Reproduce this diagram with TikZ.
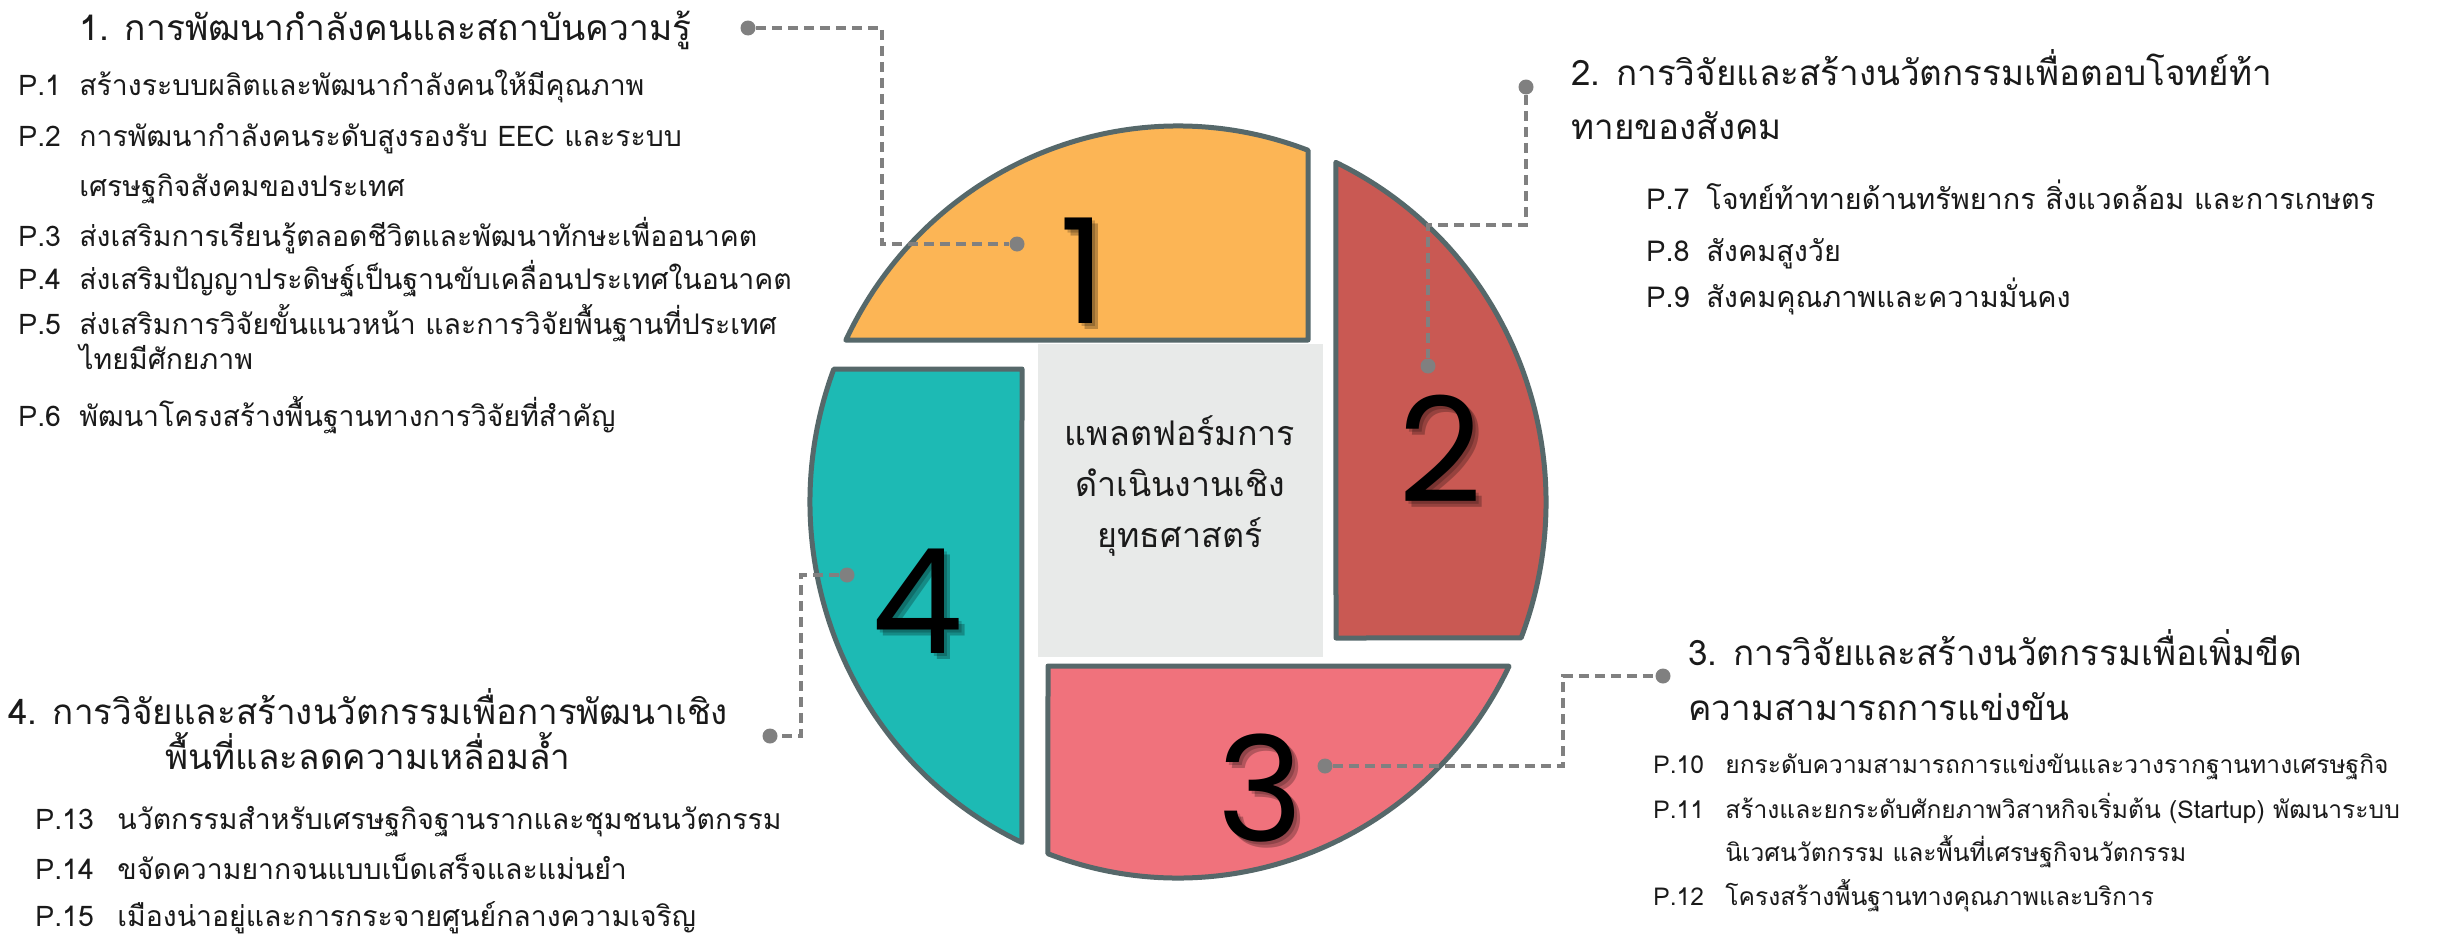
\documentclass[tikz,border=0pt]{standalone}
\usepackage{fontspec}
\setmainfont{Liberation Sans}
\newfontfamily\thaifont[Script=Thai]{Loma}
\newfontfamily\digitfont{Poppins}
\usetikzlibrary{calc}

\definecolor{segorange}{HTML}{FCB555}
\definecolor{segred}{HTML}{C95953}
\definecolor{segpink}{HTML}{F0727C}
\definecolor{segteal}{HTML}{1DBAB4}
\definecolor{rim}{HTML}{56686A}
\definecolor{hub}{HTML}{E8EAE9}
\definecolor{leader}{HTML}{808080}
\definecolor{ink}{HTML}{1A1A1A}

\tikzset{
  piece/.style={draw=rim, line width=2.5pt, line join=round},
  leaderline/.style={draw=leader, line width=1.8pt, dash pattern=on 5pt off 3pt},
  pin/.style={circle, fill=leader, inner sep=0pt, minimum size=7.5pt},
  item/.style={font=\thaifont\fontsize{14.2}{16}\selectfont, text=ink, inner sep=0pt, anchor=base west},
  itemwide/.style={item, font=\thaifont\fontsize{14.4}{16}\selectfont},
  itemsmall/.style={item, font=\thaifont\fontsize{12.3}{14}\selectfont},
  heading/.style={font=\thaifont\fontsize{17.5}{20}\selectfont, text=ink, inner sep=0pt, anchor=base west},
  headingbig/.style={heading, font=\thaifont\fontsize{17.7}{21}\selectfont},
  headingc/.style={heading, anchor=base},
  hubtext/.style={font=\thaifont\fontsize{17}{25.5}\selectfont, text=ink, align=center, inner sep=0pt},
  numeral/.style={font=\digitfont\fontsize{73}{80}\selectfont, inner sep=0pt},
  numshadow/.style={numeral, text=black, opacity=0.25},
}

\begin{document}
\begin{tikzpicture}[x=0.5pt, y=-0.5pt]
  \fill[white] (0,0) rectangle (2437,937);
  \useasboundingbox (0,0) rectangle (2437,937);

  % wheel centre (radii 368 x 376)
  \coordinate (c) at (1178,502);

  % four pieces of the wheel
  \filldraw[piece, fill=segorange] ($(c)+(205.5:368 and 376)$)
     arc[start angle=205.5, end angle=290.7, x radius=368, y radius=376]
     -- (1308,340) -- cycle;
  \filldraw[piece, fill=segred] ($(c)+(-64.6:368 and 376)$)
     arc[start angle=-64.6, end angle=21.2, x radius=368, y radius=376]
     -- (1336,638) -- cycle;
  \filldraw[piece, fill=segpink] (1048,666) -- ($(c)+(25.9:368 and 376)$)
     arc[start angle=25.9, end angle=110.7, x radius=368, y radius=376]
     -- cycle;
  \filldraw[piece, fill=segteal] (1022,369) -- ($(c)+(115.1:368 and 376)$)
     arc[start angle=115.1, end angle=200.7, x radius=368, y radius=376]
     -- cycle;

  % centre panel
  \fill[hub] (1038,344) rectangle (1323,657);
  \node[hubtext] (hubt) at (1180,486) {แพลตฟอร์มการ\\ดำเนินงานเชิง\\ยุทธศาสตร์};

  % numerals with soft shadow
  \foreach \n/\px/\py in {1/1083/271, 2/1440/449, 3/1260/788, 4/917/601}{
    \node[numshadow] at (\px+6,\py+6) {\n};
    \node[numshadow, opacity=0.2] at (\px+3,\py+3) {\n};
  }
  \node[numeral] (n1) at (1083,271) {1};
  \node[numeral] (n2) at (1440,449) {2};
  \node[numeral] (n3) at (1260,788) {3};
  \node[numeral] (n4) at (917,601) {4};

  % leader pins
  \node[pin] (a1) at (748,28) {};
  \node[pin] (b1) at (1017,244) {};
  \node[pin] (a2) at (1526,87) {};
  \node[pin] (b2) at (1428,366) {};
  \node[pin] (a3) at (1663,676) {};
  \node[pin] (b3) at (1325,766) {};
  \node[pin] (a4) at (770,736) {};
  \node[pin] (b4) at (847,575) {};
  \coordinate (k1) at (882,28);  \coordinate (k1b) at (882,244);
  \coordinate (k2) at (1526,225); \coordinate (k2b) at (1428,225);
  \coordinate (k3) at (1563,766); \coordinate (k3b) at (1563,676);
  \coordinate (k4) at (801,575);  \coordinate (k4b) at (801,736);
  \draw[leaderline] (a1) -- (k1) -- (k1b) -- (b1);
  \draw[leaderline] (a2) -- (k2) -- (k2b) -- (b2);
  \draw[leaderline] (b3) -- (k3) -- (k3b) -- (a3);
  \draw[leaderline] (b4) -- (k4) -- (k4b) -- (a4);

  % group 1
  \node[headingbig] (h1) at (79,40) {1. การพัฒนากำลังคนและสถาบันความรู้};
  \node[item] (p1) at (18,95) {P.1};
  \node[item] (t1) at (79,95) {สร้างระบบผลิตและพัฒนากำลังคนให้มีคุณภาพ};
  \node[item] (p2) at (18,146) {P.2};
  \node[item] (t2) at (79,146) {การพัฒนากำลังคนระดับสูงรองรับ EEC และระบบ};
  \node[item] (t2b) at (79,196) {เศรษฐกิจสังคมของประเทศ};
  \node[item] (p3) at (18,246) {P.3};
  \node[item] (t3) at (79,246) {ส่งเสริมการเรียนรู้ตลอดชีวิตและพัฒนาทักษะเพื่ออนาคต};
  \node[item] (p4) at (18,289) {P.4};
  \node[item] (t4) at (79,289) {ส่งเสริมปัญญาประดิษฐ์เป็นฐานขับเคลื่อนประเทศในอนาคต};
  \node[item] (p5) at (18,334) {P.5};
  \node[item] (t5) at (79,334) {ส่งเสริมการวิจัยขั้นแนวหน้า และการวิจัยพื้นฐานที่ประเทศ};
  \node[item] (t5b) at (79,369) {ไทยมีศักยภาพ};
  \node[item] (p6) at (18,426) {P.6};
  \node[item] (t6) at (79,426) {พัฒนาโครงสร้างพื้นฐานทางการวิจัยที่สำคัญ};

  % group 2
  \node[heading] (h2) at (1571,85) {2. การวิจัยและสร้างนวัตกรรมเพื่อตอบโจทย์ท้า};
  \node[heading] (h2b) at (1571,139) {ทายของสังคม};
  \node[itemwide] (p7) at (1646,209) {P.7};
  \node[itemwide] (t7) at (1706,209) {โจทย์ท้าทายด้านทรัพยากร สิ่งแวดล้อม และการเกษตร};
  \node[itemwide] (p8) at (1646,261) {P.8};
  \node[itemwide] (t8) at (1706,261) {สังคมสูงวัย};
  \node[itemwide] (p9) at (1646,307) {P.9};
  \node[itemwide] (t9) at (1706,307) {สังคมคุณภาพและความมั่นคง};

  % group 3
  \node[heading] (h3) at (1688,665) {3. การวิจัยและสร้างนวัตกรรมเพื่อเพิ่มขีด};
  \node[heading] (h3b) at (1688,720) {ความสามารถการแข่งขัน};
  \node[itemsmall] (p10) at (1653,773) {P.10};
  \node[itemsmall] (t10) at (1725,773) {ยกระดับความสามารถการแข่งขันและวางรากฐานทางเศรษฐกิจ};
  \node[itemsmall] (p11) at (1653,818) {P.11};
  \node[itemsmall] (t11) at (1725,818) {สร้างและยกระดับศักยภาพวิสาหกิจเริ่มต้น (Startup) พัฒนาระบบ};
  \node[itemsmall] (t11b) at (1725,861) {นิเวศนวัตกรรม และพื้นที่เศรษฐกิจนวัตกรรม};
  \node[itemsmall] (p12) at (1653,905) {P.12};
  \node[itemsmall] (t12) at (1725,905) {โครงสร้างพื้นฐานทางคุณภาพและบริการ};

  % group 4
  \node[headingc] (h4) at (368,724) {4. การวิจัยและสร้างนวัตกรรมเพื่อการพัฒนาเชิง};
  \node[headingc] (h4b) at (368,769) {พื้นที่และลดความเหลื่อมล้ำ};
  \node[item] (p13) at (35,829) {P.13};
  \node[item] (t13) at (117,829) {นวัตกรรมสำหรับเศรษฐกิจฐานรากและชุมชนนวัตกรรม};
  \node[item] (p14) at (35,879) {P.14};
  \node[item] (t14) at (117,879) {ขจัดความยากจนแบบเบ็ดเสร็จและแม่นยำ};
  \node[item] (p15) at (35,926) {P.15};
  \node[item] (t15) at (117,926) {เมืองน่าอยู่และการกระจายศูนย์กลางความเจริญ};
\end{tikzpicture}
\end{document}
